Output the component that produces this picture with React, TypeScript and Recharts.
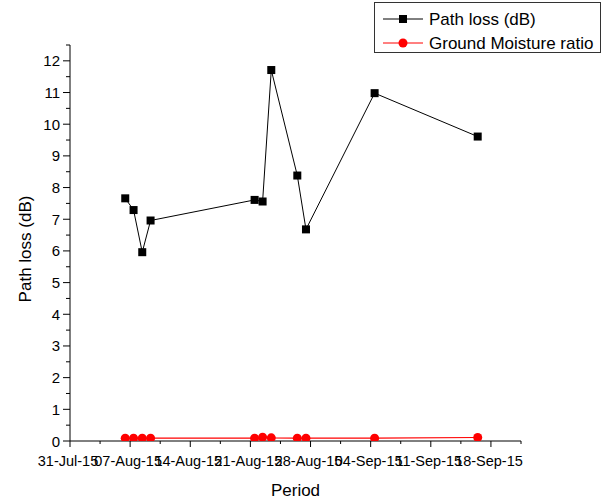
import React from 'react';
import { LineChart, Line, XAxis, YAxis } from 'recharts';

// x values: days after 31-Jul-15
const periodDays = [6.43, 7.4, 8.41, 9.38, 21.49, 22.42, 23.43, 26.46, 27.47, 35.46, 47.46];
const pathLossDb = [7.66, 7.29, 5.96, 6.96, 7.61, 7.56, 11.71, 8.38, 6.68, 10.98, 9.61];
const moistureRatio = [0.09, 0.09, 0.09, 0.09, 0.09, 0.12, 0.1, 0.09, 0.09, 0.09, 0.11];
const xTickLabels = ['31-Jul-15', '07-Aug-15', '14-Aug-15', '21-Aug-15', '28-Aug-15', '04-Sep-15', '11-Sep-15', '18-Sep-15'];
const yTickLabels = ['0', '1', '2', '3', '4', '5', '6', '7', '8', '9', '10', '11', '12'];
const seriesNames = ['Path loss (dB)', 'Ground Moisture ratio'];
const seriesColors = ['#000000', '#ff0000'];

const data = periodDays.map((d, i) => ({ day: d, loss: pathLossDb[i], moisture: moistureRatio[i] }));

const xTicks: number[] = [];
for (let i = 0; i <= 15; i++) xTicks.push(i * 3.5);
const yTicks: number[] = [];
for (let i = 0; i <= 25; i++) yTicks.push(i * 0.5);

const FONT = 'Arial, "Liberation Sans", sans-serif';

const XTick = (props: any) => {
  const { x, y, payload } = props;
  const v = payload.value;
  const idx = Math.round(v / 7);
  const major = Math.abs(v / 7 - idx) < 1e-6;
  return (
    <g>
      <line x1={x} y1={y} x2={x} y2={y + (major ? 6 : 3)} stroke="#000" strokeWidth={1} />
      {major && xTickLabels[idx] !== undefined && (
        <text x={x - 2} y={y + 25} textAnchor="middle" fontSize={14.5} fontFamily={FONT} fill="#000">
          {xTickLabels[idx]}
        </text>
      )}
    </g>
  );
};

const YTick = (props: any) => {
  const { x, y, payload } = props;
  const v = payload.value;
  const idx = Math.round(v);
  const major = Math.abs(v - idx) < 1e-6;
  return (
    <g>
      <line x1={x} y1={y} x2={x - (major ? 7 : 4)} y2={y} stroke="#000" strokeWidth={1} />
      {major && yTickLabels[idx] !== undefined && (
        <text x={x - 10} y={y + 5.5} textAnchor="end" fontSize={15} fontFamily={FONT} fill="#000">
          {yTickLabels[idx]}
        </text>
      )}
    </g>
  );
};

const SquareDot = (props: any) => {
  const { cx, cy, index } = props;
  if (cx == null || cy == null) return null;
  return <rect key={`sq-${index}`} x={cx - 4} y={cy - 4} width={8} height={8} fill="#000" />;
};

const LegendBox = () => (
  <div
    style={{
      position: 'absolute',
      left: 374,
      top: 2,
      width: 227,
      height: 51,
      border: '1px solid #333',
      background: '#fff',
      boxSizing: 'border-box',
    }}
  >
    <svg width={225} height={49} style={{ display: 'block' }}>
      {seriesNames.map((name, i) => {
        const cy = 16 + i * 24;
        const color = seriesColors[i];
        return (
          <g key={i}>
            <line x1={8} x2={48} y1={cy} y2={cy} stroke={color} strokeWidth={1} />
            {i === 0 ? (
              <rect x={24} y={cy - 4} width={8} height={8} fill={color} />
            ) : (
              <circle cx={28} cy={cy} r={4.5} fill={color} />
            )}
            <text x={54} y={cy + 6} fontSize={17} fontFamily={FONT} fill="#000">
              {name}
            </text>
          </g>
        );
      })}
    </svg>
  </div>
);

export default function App() {
  return (
    <div style={{ position: 'absolute', left: 0, top: 0, width: 612, height: 499, background: '#fff' }}>
      <LineChart width={612} height={499} data={data} margin={{ top: 45, right: 91, bottom: 0, left: 0 }}>
        <XAxis
          dataKey="day"
          type="number"
          domain={[0, 52.5]}
          ticks={xTicks}
          interval={0}
          tick={<XTick />}
          tickLine={false}
          tickSize={0}
          tickMargin={0}
          height={58}
          axisLine={{ stroke: '#000', strokeWidth: 1 }}
          allowDataOverflow
          label={{
            content: (p: any) => {
              const vb = p.viewBox;
              return (
                <text x={vb.x + vb.width / 2} y={496} textAnchor="middle" fontSize={17} fontFamily={FONT} fill="#000">
                  Period
                </text>
              );
            },
          }}
        />
        <YAxis
          type="number"
          domain={[0, 12.5]}
          ticks={yTicks}
          interval={0}
          tick={<YTick />}
          tickLine={false}
          tickSize={0}
          tickMargin={0}
          width={70}
          axisLine={{ stroke: '#000', strokeWidth: 1 }}
          allowDataOverflow
          label={{
            content: (p: any) => {
              const vb = p.viewBox;
              const cy = vb.y + vb.height / 2 + 6;
              return (
                <text
                  x={31}
                  y={cy}
                  transform={`rotate(-90, 31, ${cy})`}
                  textAnchor="middle"
                  fontSize={17}
                  fontFamily={FONT}
                  fill="#000"
                >
                  Path loss (dB)
                </text>
              );
            },
          }}
        />
        <Line
          type="linear"
          dataKey="loss"
          name={seriesNames[0]}
          stroke={seriesColors[0]}
          strokeWidth={1}
          dot={<SquareDot />}
          activeDot={false}
          isAnimationActive={false}
        />
        <Line
          type="linear"
          dataKey="moisture"
          name={seriesNames[1]}
          stroke={seriesColors[1]}
          strokeWidth={1.2}
          dot={{ r: 4.5, fill: seriesColors[1], stroke: seriesColors[1], strokeWidth: 0 }}
          activeDot={false}
          isAnimationActive={false}
        />
      </LineChart>
      <LegendBox />
    </div>
  );
}
